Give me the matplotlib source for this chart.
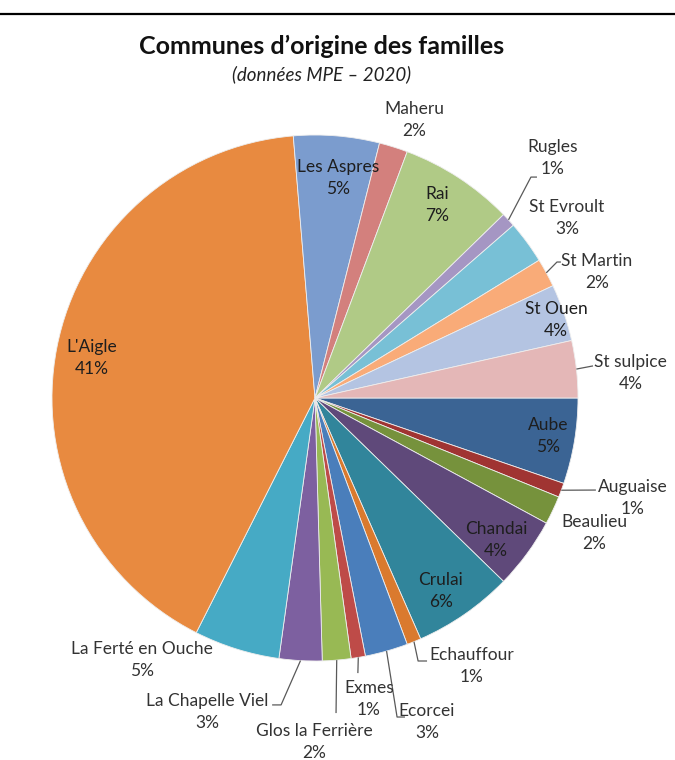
import numpy as np
import matplotlib
matplotlib.use("Agg")
import matplotlib.pyplot as plt
from matplotlib.lines import Line2D

plt.rcParams['font.family'] = ['Lato', 'DejaVu Sans']

# communes, in the order of the chart (clockwise from 3 o'clock)
communes = ["Aube", "Auguaise", "Beaulieu", "Chandai", "Crulai", "Echauffour",
            "Ecorcei", "Exmes", "Glos la Ferrière", "La Chapelle Viel",
            "La Ferté en Ouche", "L'Aigle", "Les Aspres", "Maheru", "Rai",
            "Rugles", "St Evroult", "St Martin", "St Ouen", "St sulpice"]
# number of families per commune
familles = [6, 1, 2, 5, 7, 1, 3, 1, 2, 3, 6, 47, 6, 2, 8, 1, 3, 2, 4, 4]

couleurs = ["#3B6494", "#A03432", "#76923C", "#5F497A", "#31859B", "#DA7A2E",
            "#4A7EBB", "#BE4B48", "#98B954", "#7D60A0", "#46AAC5", "#E88A40",
            "#7B9CCE", "#D3807D", "#B0CA86", "#A596C3", "#78C0D6", "#F9AB78",
            "#B4C4E2", "#E4B7B7"]

# label layout (pie units, radius = 1): text centre, and leader line elbow/end
pos_texte = {
    "Aube": (0.886, -0.144), "Auguaise": (1.209, -0.380), "Beaulieu": (1.061, -0.513),
    "Chandai": (0.688, -0.540), "Crulai": (0.479, -0.734), "Echauffour": (0.597, -1.019),
    "Ecorcei": (0.426, -1.232), "Exmes": (0.205, -1.144), "Glos la Ferrière": (-0.004, -1.308),
    "La Chapelle Viel": (-0.411, -1.194), "La Ferté en Ouche": (-0.658, -0.996),
    "L'Aigle": (-0.848, 0.152), "Les Aspres": (0.087, 0.837), "Maheru": (0.376, 1.057),
    "Rai": (0.464, 0.734), "Rugles": (0.905, 0.913), "St Evroult": (0.958, 0.684),
    "St Martin": (1.072, 0.479), "St Ouen": (0.916, 0.297), "St sulpice": (1.20, 0.095),
}
leaders = {
    "Rugles": [(0.821, 0.840), (0.844, 0.840)],
    "St Martin": [(0.920, 0.517), (0.935, 0.517)],
    "St sulpice": [(1.057, 0.122)],
    "Auguaise": [(1.068, -0.350)],
    "Echauffour": [(0.392, -1.0), (0.426, -1.0)],
    "Ecorcei": [(0.312, -1.213), (0.342, -1.213)],
    "Exmes": [(0.163, -1.046)],
    "Glos la Ferrière": [(0.080, -1.198)],
    "La Chapelle Viel": [(-0.129, -1.167), (-0.163, -1.167)],
}
interieur = {"Aube", "Chandai", "Crulai", "L'Aigle", "Les Aspres", "Rai", "St Ouen"}

W, H = 675, 760
cx, cy, r = 315, 398, 263

fig = plt.figure(figsize=(W / 100, H / 100), dpi=100)
ax = fig.add_axes([0, 0, 1, 1])

wedges, _ = ax.pie(familles, colors=couleurs, startangle=0, counterclock=False,
                   wedgeprops=dict(edgecolor="#eeeeee", linewidth=0.6))
ax.set_xlim(-cx / r, (W - cx) / r)
ax.set_ylim(-(H - cy) / r, cy / r)
ax.set_aspect("auto")
ax.axis("off")

total = sum(familles)
for w, nom, n in zip(wedges, communes, familles):
    pct = int(round(100 * n / total))
    x, y = pos_texte[nom]
    col = "#1e1e1e" if nom in interieur else "#333333"
    ax.text(x, y, f"{nom}\n{pct}%", ha="center", va="center", fontsize=12.5,
            color=col, linespacing=1.45)
    if nom in leaders:
        a = np.deg2rad((w.theta1 + w.theta2) / 2)
        pts = [(np.cos(a), np.sin(a))] + leaders[nom]
        xs, ys = zip(*pts)
        ax.plot(xs, ys, color="#595959", lw=0.9, solid_capstyle="butt")

fig.text(322 / W, 1 - 46 / H, "Communes d’origine des familles", ha="center", va="center",
         fontsize=18, fontweight="bold", color="#111111")
fig.text(322 / W, 1 - 74 / H, "(données MPE – 2020)", ha="center", va="center",
         fontsize=13.5, style="italic", color="#222222")

fig.add_artist(Line2D([0, 1], [1 - 14 / H, 1 - 14 / H], color="black", lw=1.6,
                      transform=fig.transFigure))

fig.savefig("out.png", dpi=100)
